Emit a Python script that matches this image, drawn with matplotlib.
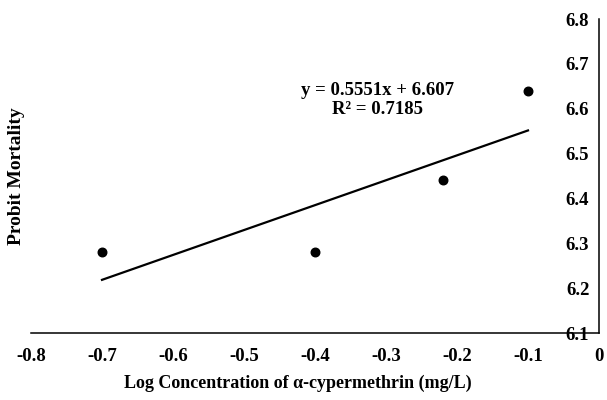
import numpy as np
import matplotlib.pyplot as plt

plt.rcParams['font.family'] = ['Liberation Serif', 'DejaVu Serif']
plt.rcParams['font.weight'] = 'bold'

log_conc = [-0.7, -0.4, -0.22, -0.1]
probit = [6.28, 6.28, 6.44, 6.64]
xticks = [-0.8, -0.7, -0.6, -0.5, -0.4, -0.3, -0.2, -0.1, 0]
xtick_labels = ['-0.8', '-0.7', '-0.6', '-0.5', '-0.4', '-0.3', '-0.2', '-0.1', '0']
yticks = [6.1, 6.2, 6.3, 6.4, 6.5, 6.6, 6.7, 6.8]
equation = "y = 0.5551x + 6.607"
r_squared = "R² = 0.7185"

fig = plt.figure(figsize=(6.07, 4.0), dpi=100)
ax = fig.add_axes([0.0511, 0.1675, 0.9357, 0.785])

ax.scatter(log_conc, probit, s=38, color='black', zorder=3)

slope, intercept = np.polyfit(log_conc, probit, 1)
xs = np.array([min(log_conc), max(log_conc)])
ax.plot(xs, slope * xs + intercept, color='black', lw=1.6)

ax.set_xlim(-0.8, 0)
ax.set_ylim(6.1, 6.8)
ax.set_xticks(xticks)
ax.set_xticklabels(xtick_labels)
ax.set_yticks(yticks)
ax.set_yticklabels([f"{v:.1f}" for v in yticks])

for s in ['top', 'left']:
    ax.spines[s].set_visible(False)
for s in ['bottom', 'right']:
    ax.spines[s].set_linewidth(1.1)

ax.yaxis.set_ticks_position('right')
ax.tick_params(axis='y', length=0, labelright=True, labelleft=False, pad=-7, labelsize=13.5)
for lbl in ax.get_yticklabels():
    lbl.set_horizontalalignment('right')
ax.tick_params(axis='x', length=0, pad=11, labelsize=13.5)

ax.set_xlabel("Log Concentration of α-cypermethrin (mg/L)", fontsize=13, fontweight='bold')
ax.xaxis.set_label_coords(0.47, -0.133)
fig.text(17 / 607, 1 - 176 / 400, "Probit Mortality", rotation=90,
         ha='center', va='center', fontsize=14, fontweight='bold')

ax.text(-0.312, 6.62, equation + "\n" + r_squared, ha='center', va='center',
        fontsize=13.5, fontweight='bold', linespacing=1.15)

fig.savefig("out.png", dpi=100)
